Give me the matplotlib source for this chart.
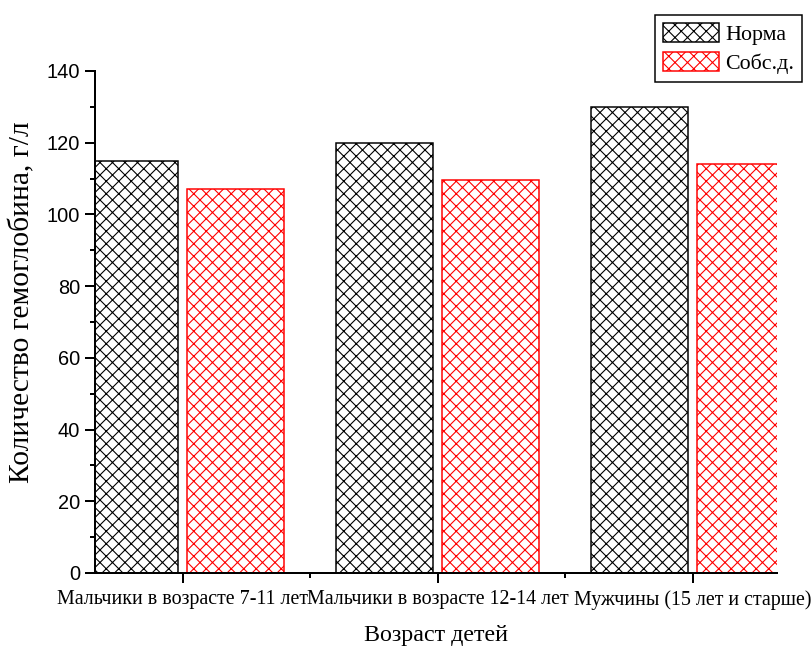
import matplotlib.pyplot as plt
import numpy as np

# data
groups = ['Мальчики в возрасте 7-11 лет', 'Мальчики в возрасте 12-14 лет', 'Мужчины (15 лет и старше)']
norma = [115, 120, 130]
sobs = [107, 109.7, 114]
series_names = ['Норма', 'Собс.д.']

DPI = 75  # low dpi so the hatch spacing comes out close to the original


def px(v):
    return v * 72 / DPI


W, H = 811, 648
fig = plt.figure(figsize=(W / DPI, H / DPI), dpi=DPI)
ax = fig.add_axes([95 / W, 75 / H, 682 / W, 502 / H])

plt.rcParams['hatch.linewidth'] = px(1.1)

x = np.arange(len(groups))
width = 0.382
off = 0.2088
b1 = ax.bar(x - off, norma, width, facecolor='white', edgecolor='black', hatch='xx',
            linewidth=px(1.5), label=series_names[0])
b2 = ax.bar(x + off, sobs, width, facecolor='white', edgecolor='red', hatch='xx',
            linewidth=px(1.5), label=series_names[1])

ax.set_xlim(-87.5 / 255, 2 + 84.5 / 255)
ax.set_ylim(0, 140)
ax.set_yticks(np.arange(0, 141, 20))
ax.set_yticks(np.arange(10, 140, 20), minor=True)
ax.set_xticks(x)
ax.set_xticks([0.5, 1.5], minor=True)
ax.set_xticklabels(groups, fontfamily='Liberation Serif', fontsize=px(20))
for lab in ax.get_yticklabels():
    lab.set_fontfamily('Liberation Sans')
    lab.set_fontsize(px(20))

ax.spines['top'].set_visible(False)
ax.spines['right'].set_visible(False)
for s in ['left', 'bottom']:
    ax.spines[s].set_linewidth(px(2))
ax.tick_params(which='major', direction='out', length=px(10), width=px(2), pad=px(5))
ax.tick_params(which='minor', direction='out', length=px(5), width=px(2))
ax.tick_params(axis='x', which='major', pad=px(7))

ax.set_ylabel('Количество гемоглобина, г/л', fontfamily='Liberation Serif',
              fontsize=px(29.5))
ax.yaxis.set_label_coords(-0.087, 0.54)
ax.set_xlabel('Возраст детей', fontfamily='Liberation Serif', fontsize=px(24),
              labelpad=px(15))

leg = fig.legend(handles=[b1, b2], loc='upper right',
                 bbox_to_anchor=(802 / W, 1 - 15 / H),
                 prop={'family': 'Liberation Serif', 'size': px(22)},
                 fancybox=False, framealpha=1, edgecolor='black',
                 handlelength=2.55, handleheight=0.95, handletextpad=0.3,
                 borderpad=0.35, labelspacing=0.35, borderaxespad=0)
leg.get_frame().set_linewidth(px(1.5))

fig.savefig('out.png', dpi=DPI)
